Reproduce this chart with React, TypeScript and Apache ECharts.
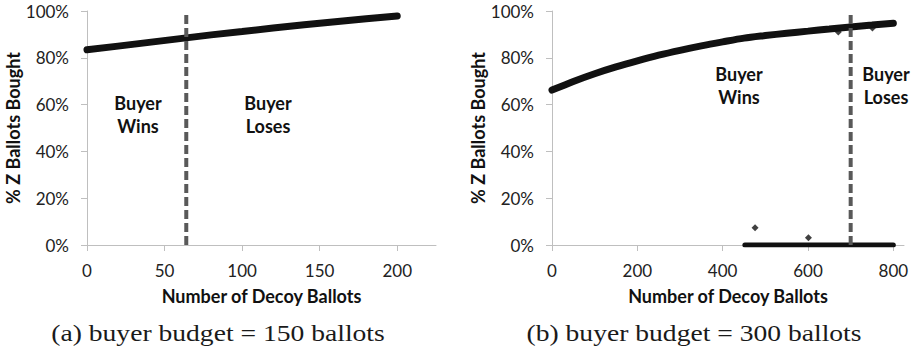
import React, { useEffect, useRef } from "react";
import * as echarts from "echarts";

// (a) budget of 150 ballots
const leftDecoys = [0, 20, 40, 60, 80, 100, 120, 140, 160, 180, 200];
const leftBought = [83.4, 85.0, 86.6, 88.2, 89.8, 91.2, 92.7, 94.1, 95.4, 96.7, 97.9];
const leftThreshold = 64;
const leftTicks = [0, 50, 100, 150, 200];

// (b) budget of 300 ballots
const rightDecoys = [0, 50, 100, 150, 200, 250, 300, 350, 400, 450, 500, 550, 600, 650, 700, 750, 800];
const rightBought = [66.2, 69.9, 73.2, 76.1, 78.7, 81.1, 83.2, 85.1, 86.8, 88.4, 89.5, 90.5, 91.4, 92.3, 93.2, 94.0, 94.8];
const rightZeroDecoys = [452, 800];
const rightZeroBought = [0, 0];
const rightStrays: [number, number][] = [[476, 7.4], [601, 3.1], [671, 91.0], [751, 92.7]];
const rightThreshold = 700;
const rightTicks = [0, 200, 400, 600, 800];

const yTicks = [0, 20, 40, 60, 80, 100];

const SANS = "Lato, 'Open Sans', sans-serif";
const AXIS_GRAY = "#bfbfbf";
const INK = "#111111";
const DASH_GRAY = "#595959";

function xAxisFor(gridIndex: number, max: number, ticks: number[]) {
  return {
    type: "value",
    gridIndex,
    min: 0,
    max,
    name: "Number of Decoy Ballots",
    nameLocation: "middle",
    nameGap: 42,
    nameTextStyle: { fontFamily: SANS, fontWeight: "bold", fontSize: 18, color: INK },
    splitLine: { show: false },
    axisLine: { show: true, onZero: false, lineStyle: { color: AXIS_GRAY, width: 1 } },
    axisTick: { show: true, length: 6, customValues: ticks, lineStyle: { color: AXIS_GRAY } },
    axisLabel: { customValues: ticks, margin: 17, fontFamily: SANS, fontSize: 17, color: "#222" },
  };
}

function yAxisFor(gridIndex: number) {
  return {
    type: "value",
    gridIndex,
    min: 0,
    max: 100,
    interval: 20,
    name: "% Z Ballots Bought",
    nameLocation: "middle",
    nameGap: 64,
    nameTextStyle: { fontFamily: SANS, fontWeight: "bold", fontSize: 18, color: INK },
    splitLine: { show: false },
    axisLine: { show: true, lineStyle: { color: AXIS_GRAY, width: 1 } },
    axisTick: { show: true, length: 6, customValues: yTicks, lineStyle: { color: AXIS_GRAY } },
    axisLabel: { formatter: "{value}%", margin: 18, fontFamily: SANS, fontSize: 17, color: "#222" },
  };
}

function zip(xs: number[], ys: number[]) {
  return xs.map((x, i) => [x, ys[i]]);
}

function thresholdSeries(axisIndex: number, x: number) {
  return {
    type: "line",
    xAxisIndex: axisIndex,
    yAxisIndex: axisIndex,
    data: [[x, 0], [x, 100]],
    showSymbol: false,
    silent: true,
    z: 5,
    lineStyle: { color: DASH_GRAY, width: 4, type: [9, 4] },
  };
}

function label(x: number, y: number, text: string) {
  return {
    type: "text",
    x,
    y,
    style: {
      text,
      fontFamily: SANS,
      fontWeight: "bold",
      fontSize: 18,
      lineHeight: 23,
      fill: INK,
      textAlign: "center",
      textVerticalAlign: "middle",
    },
  };
}

function caption(x: number, text: string) {
  return {
    type: "text",
    x,
    y: 333,
    scaleX: 1.2,
    style: {
      text,
      fontFamily: "'Liberation Serif', 'DejaVu Serif', serif",
      fontSize: 23,
      fill: "#1a1a1a",
      textAlign: "center",
      textVerticalAlign: "middle",
    },
  };
}

export default function App() {
  const ref = useRef<HTMLDivElement>(null);

  useEffect(() => {
    if (!ref.current) return;
    const chart = echarts.init(ref.current, undefined, { renderer: "svg" });
    chart.setOption({
      animation: false,
      backgroundColor: "#ffffff",
      grid: [
        { left: 87, top: 11, width: 349, height: 234 },
        { left: 552, top: 11, width: 352, height: 234 },
      ],
      xAxis: [xAxisFor(0, 225, leftTicks), xAxisFor(1, 825, rightTicks)],
      yAxis: [yAxisFor(0), yAxisFor(1)],
      series: [
        {
          type: "line",
          xAxisIndex: 0,
          yAxisIndex: 0,
          data: zip(leftDecoys, leftBought),
          showSymbol: false,
          lineStyle: { color: INK, width: 7, cap: "round" },
          z: 3,
        },
        thresholdSeries(0, leftThreshold),
        {
          type: "line",
          xAxisIndex: 1,
          yAxisIndex: 1,
          data: zip(rightDecoys, rightBought),
          showSymbol: false,
          smooth: 0.3,
          lineStyle: { color: INK, width: 7, cap: "round" },
          z: 3,
        },
        {
          type: "line",
          xAxisIndex: 1,
          yAxisIndex: 1,
          data: zip(rightZeroDecoys, rightZeroBought),
          showSymbol: false,
          lineStyle: { color: INK, width: 5, cap: "round" },
          z: 3,
        },
        {
          type: "scatter",
          xAxisIndex: 1,
          yAxisIndex: 1,
          data: rightStrays,
          symbol: "diamond",
          symbolSize: 7,
          itemStyle: { color: INK },
          z: 3,
        },
        thresholdSeries(1, rightThreshold),
      ],
      graphic: [
        label(138, 114.5, "Buyer\nWins"),
        label(268, 114.5, "Buyer\nLoses"),
        label(739, 85.5, "Buyer\nWins"),
        label(886, 85.5, "Buyer\nLoses"),
        caption(218, "(a) buyer budget = 150 ballots"),
        caption(694, "(b) buyer budget = 300 ballots"),
      ],
    });
    return () => chart.dispose();
  }, []);

  return (
    <div
      ref={ref}
      style={{ position: "fixed", left: 0, top: 0, width: 917, height: 352, background: "#fff" }}
    />
  );
}
